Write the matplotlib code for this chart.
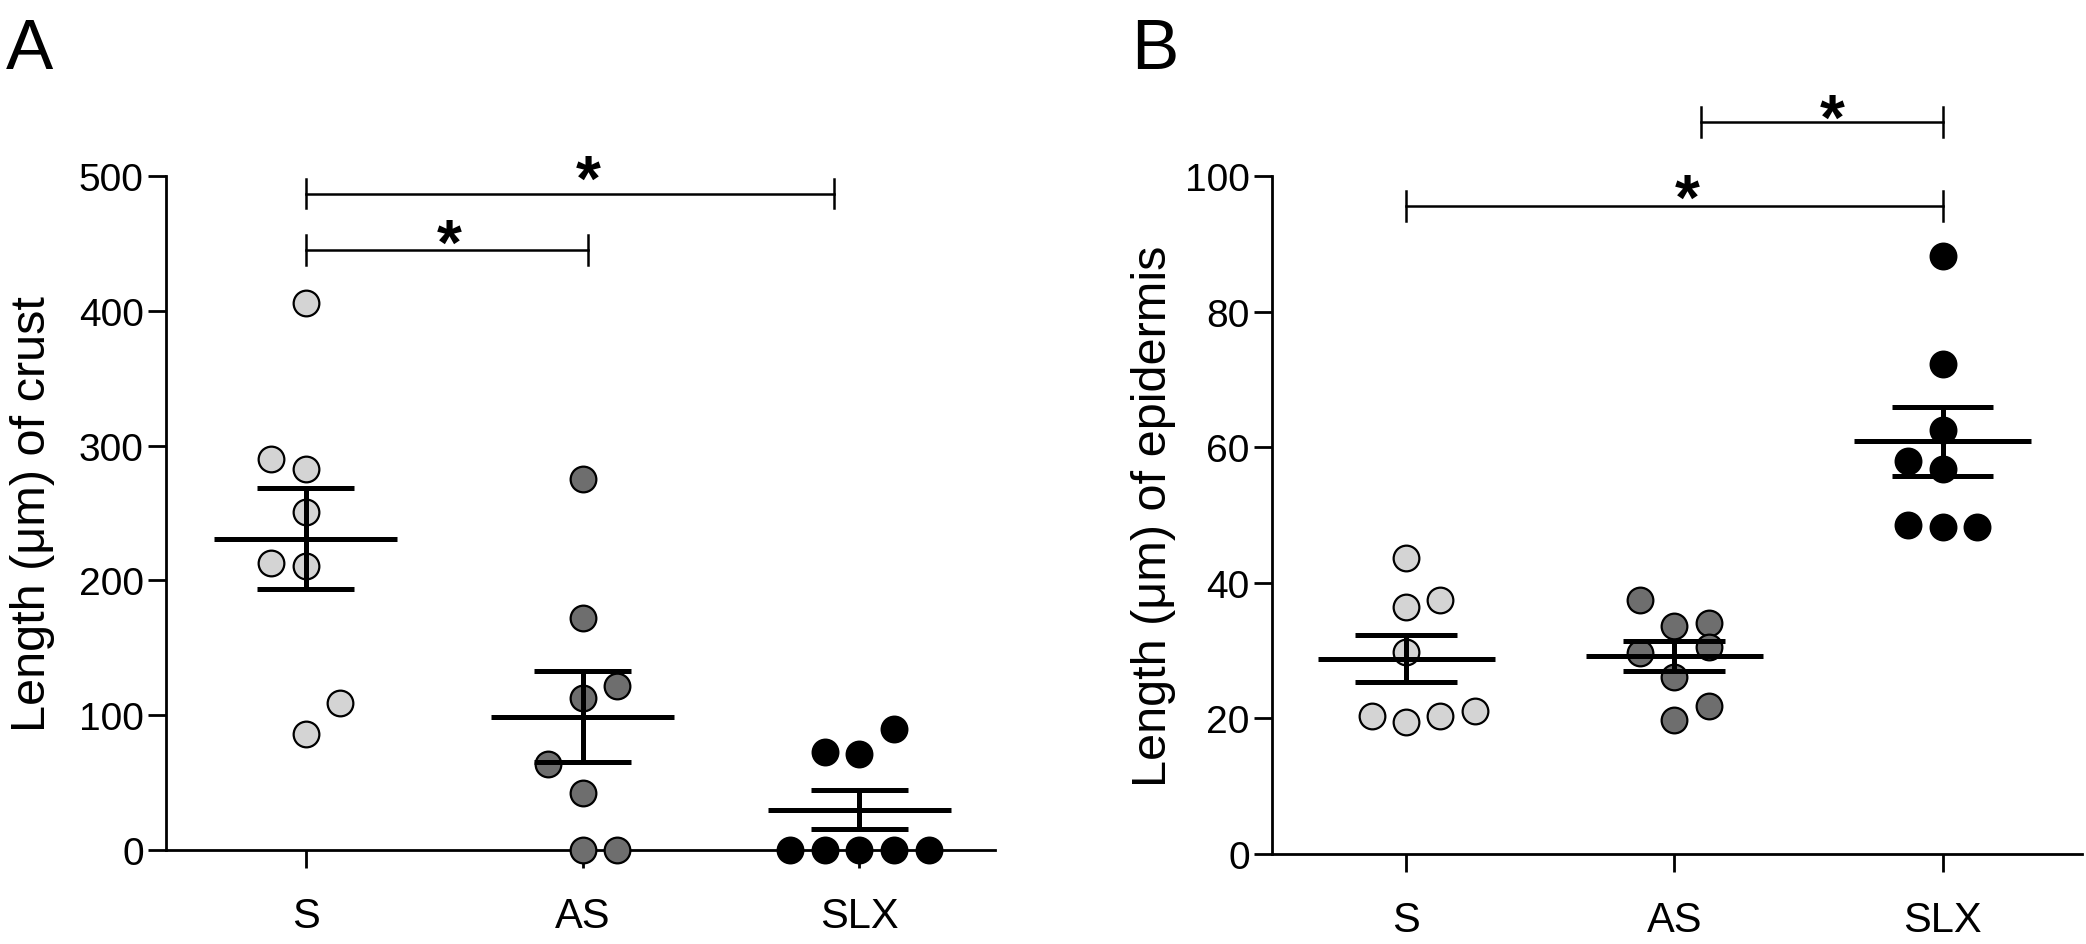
import matplotlib
matplotlib.use("Agg")
import matplotlib.pyplot as plt

plt.rcParams['font.family'] = ['Liberation Sans', 'DejaVu Sans']

# ---------------- data ----------------
categories = ['S', 'AS', 'SLX']

crust_S = [406, 290, 283, 251, 213, 211, 109, 86]
crust_AS = [275, 172, 122, 113, 64, 42, 0, 0]
crust_SLX = [90, 73, 71, 0, 0, 0, 0, 0]
crust_mean = [231, 99, 30]
crust_sem = [37.5, 34, 14.5]

epi_S = [43.7, 36.4, 37.4, 29.8, 20.3, 19.5, 20.3, 21.1]
epi_AS = [37.5, 33.6, 34.0, 29.6, 30.5, 26.1, 21.8, 19.7]
epi_SLX = [88.2, 72.3, 62.6, 58.0, 56.8, 48.5, 48.3, 48.3]
epi_mean = [28.8, 29.2, 60.9]
epi_sem = [3.5, 2.2, 5.1]

# horizontal jitter slots (layout of dot plot)
crust_S_slot = [0, -1, 0, 0, -1, 0, 1, 0]
crust_AS_slot = [0, 0, 1, 0, -1, 0, 0, 1]
crust_SLX_slot = [1, -1, 0, -2, -1, 0, 1, 2]
epi_S_slot = [0, 0, 1, 0, -1, 0, 1, 2]
epi_AS_slot = [-1, 0, 1, -1, 1, 0, 1, 0]
epi_SLX_slot = [0, 0, 0, -1, 0, -1, 0, 1]

crust_yticks = [0, 100, 200, 300, 400, 500]
epi_yticks = [0, 20, 40, 60, 80, 100]

# brackets: (x1, x2, y, star_x, star_y)
crust_brackets = [(0, 1.02, 445, 0.52, 462), (0, 1.91, 487, 1.02, 510)]
epi_brackets = [(0, 2.0, 95.6, 1.05, 99.1), (1.10, 2.0, 108, 1.59, 111)]

colors = ['#d4d4d4', '#6e6e6e', '#000000']

W, H = 2086, 945
fig = plt.figure(figsize=(W / 100, H / 100), dpi=100)
axA = fig.add_axes([166 / W, (H - 851) / H, (995 - 166) / W, (851 - 177) / H])
axB = fig.add_axes([1272 / W, (H - 855) / H, (2082 - 1272) / W, (855 - 177) / H])


def draw(ax, groups, slots, means, sems, yticks, ylim, xlim, ylabel, brackets,
         cap_h, step, cap_w, label_x):
    for i, (vals, sl) in enumerate(zip(groups, slots)):
        xs = [i + s * step for s in sl]
        ax.plot(xs, vals, linestyle='none', marker='o', ms=18.5,
                markerfacecolor=colors[i], markeredgecolor='black',
                markeredgewidth=1.6, clip_on=False, zorder=3)
    for i, (m, s) in enumerate(zip(means, sems)):
        ax.hlines(m, i - 0.33, i + 0.33, color='black', lw=3.6, zorder=4)
        ax.hlines([m - s, m + s], i - cap_w, i + cap_w, color='black', lw=3.6, zorder=4)
        ax.vlines(i, m - s, m + s, color='black', lw=3.6, zorder=4)
    for x1, x2, y, sx, sy in brackets:
        ax.plot([x1, x2], [y, y], color='black', lw=1.8, clip_on=False)
        ax.plot([x1, x1], [y - cap_h, y + cap_h], color='black', lw=1.8, clip_on=False)
        ax.plot([x2, x2], [y - cap_h, y + cap_h], color='black', lw=1.8, clip_on=False)
        ax.annotate('*', xy=(sx, sy), xytext=(0, -0.58 * 46), textcoords='offset points',
                    ha='center', va='baseline', fontsize=46, fontweight='bold',
                    annotation_clip=False)
    ax.set_xlim(*xlim)
    ax.set_ylim(*ylim)
    ax.set_xticks(range(len(categories)))
    ax.set_xticklabels(categories)
    ax.set_yticks(yticks)
    for side in ['top', 'right']:
        ax.spines[side].set_visible(False)
    for side in ['left', 'bottom']:
        ax.spines[side].set_linewidth(2.0)
    ax.tick_params(axis='both', length=13, width=2.0, color='black')
    ax.tick_params(axis='y', pad=3, labelsize=28)
    ax.tick_params(axis='x', pad=20, labelsize=30)
    ax.set_ylabel(ylabel, fontsize=35)
    ax.yaxis.set_label_coords(label_x, 0.5)


draw(axA, [crust_S, crust_AS, crust_SLX],
     [crust_S_slot, crust_AS_slot, crust_SLX_slot],
     crust_mean, crust_sem, crust_yticks, (0, 500), (-0.505, 2.49),
     'Length (\u03bcm) of crust', crust_brackets, 11, 0.125, 0.175, -0.134)
draw(axB, [epi_S, epi_AS, epi_SLX],
     [epi_S_slot, epi_AS_slot, epi_SLX_slot],
     epi_mean, epi_sem, epi_yticks, (0, 100), (-0.5, 2.52),
     'Length (\u03bcm) of epidermis', epi_brackets, 2.2, 0.128, 0.19, -0.118)

fig.text(6 / W, 1 - 69 / H, 'A', fontsize=51, va='baseline', ha='left')
fig.text(1131 / W, 1 - 69 / H, 'B', fontsize=51, va='baseline', ha='left')

fig.savefig('out.png', dpi=100)
